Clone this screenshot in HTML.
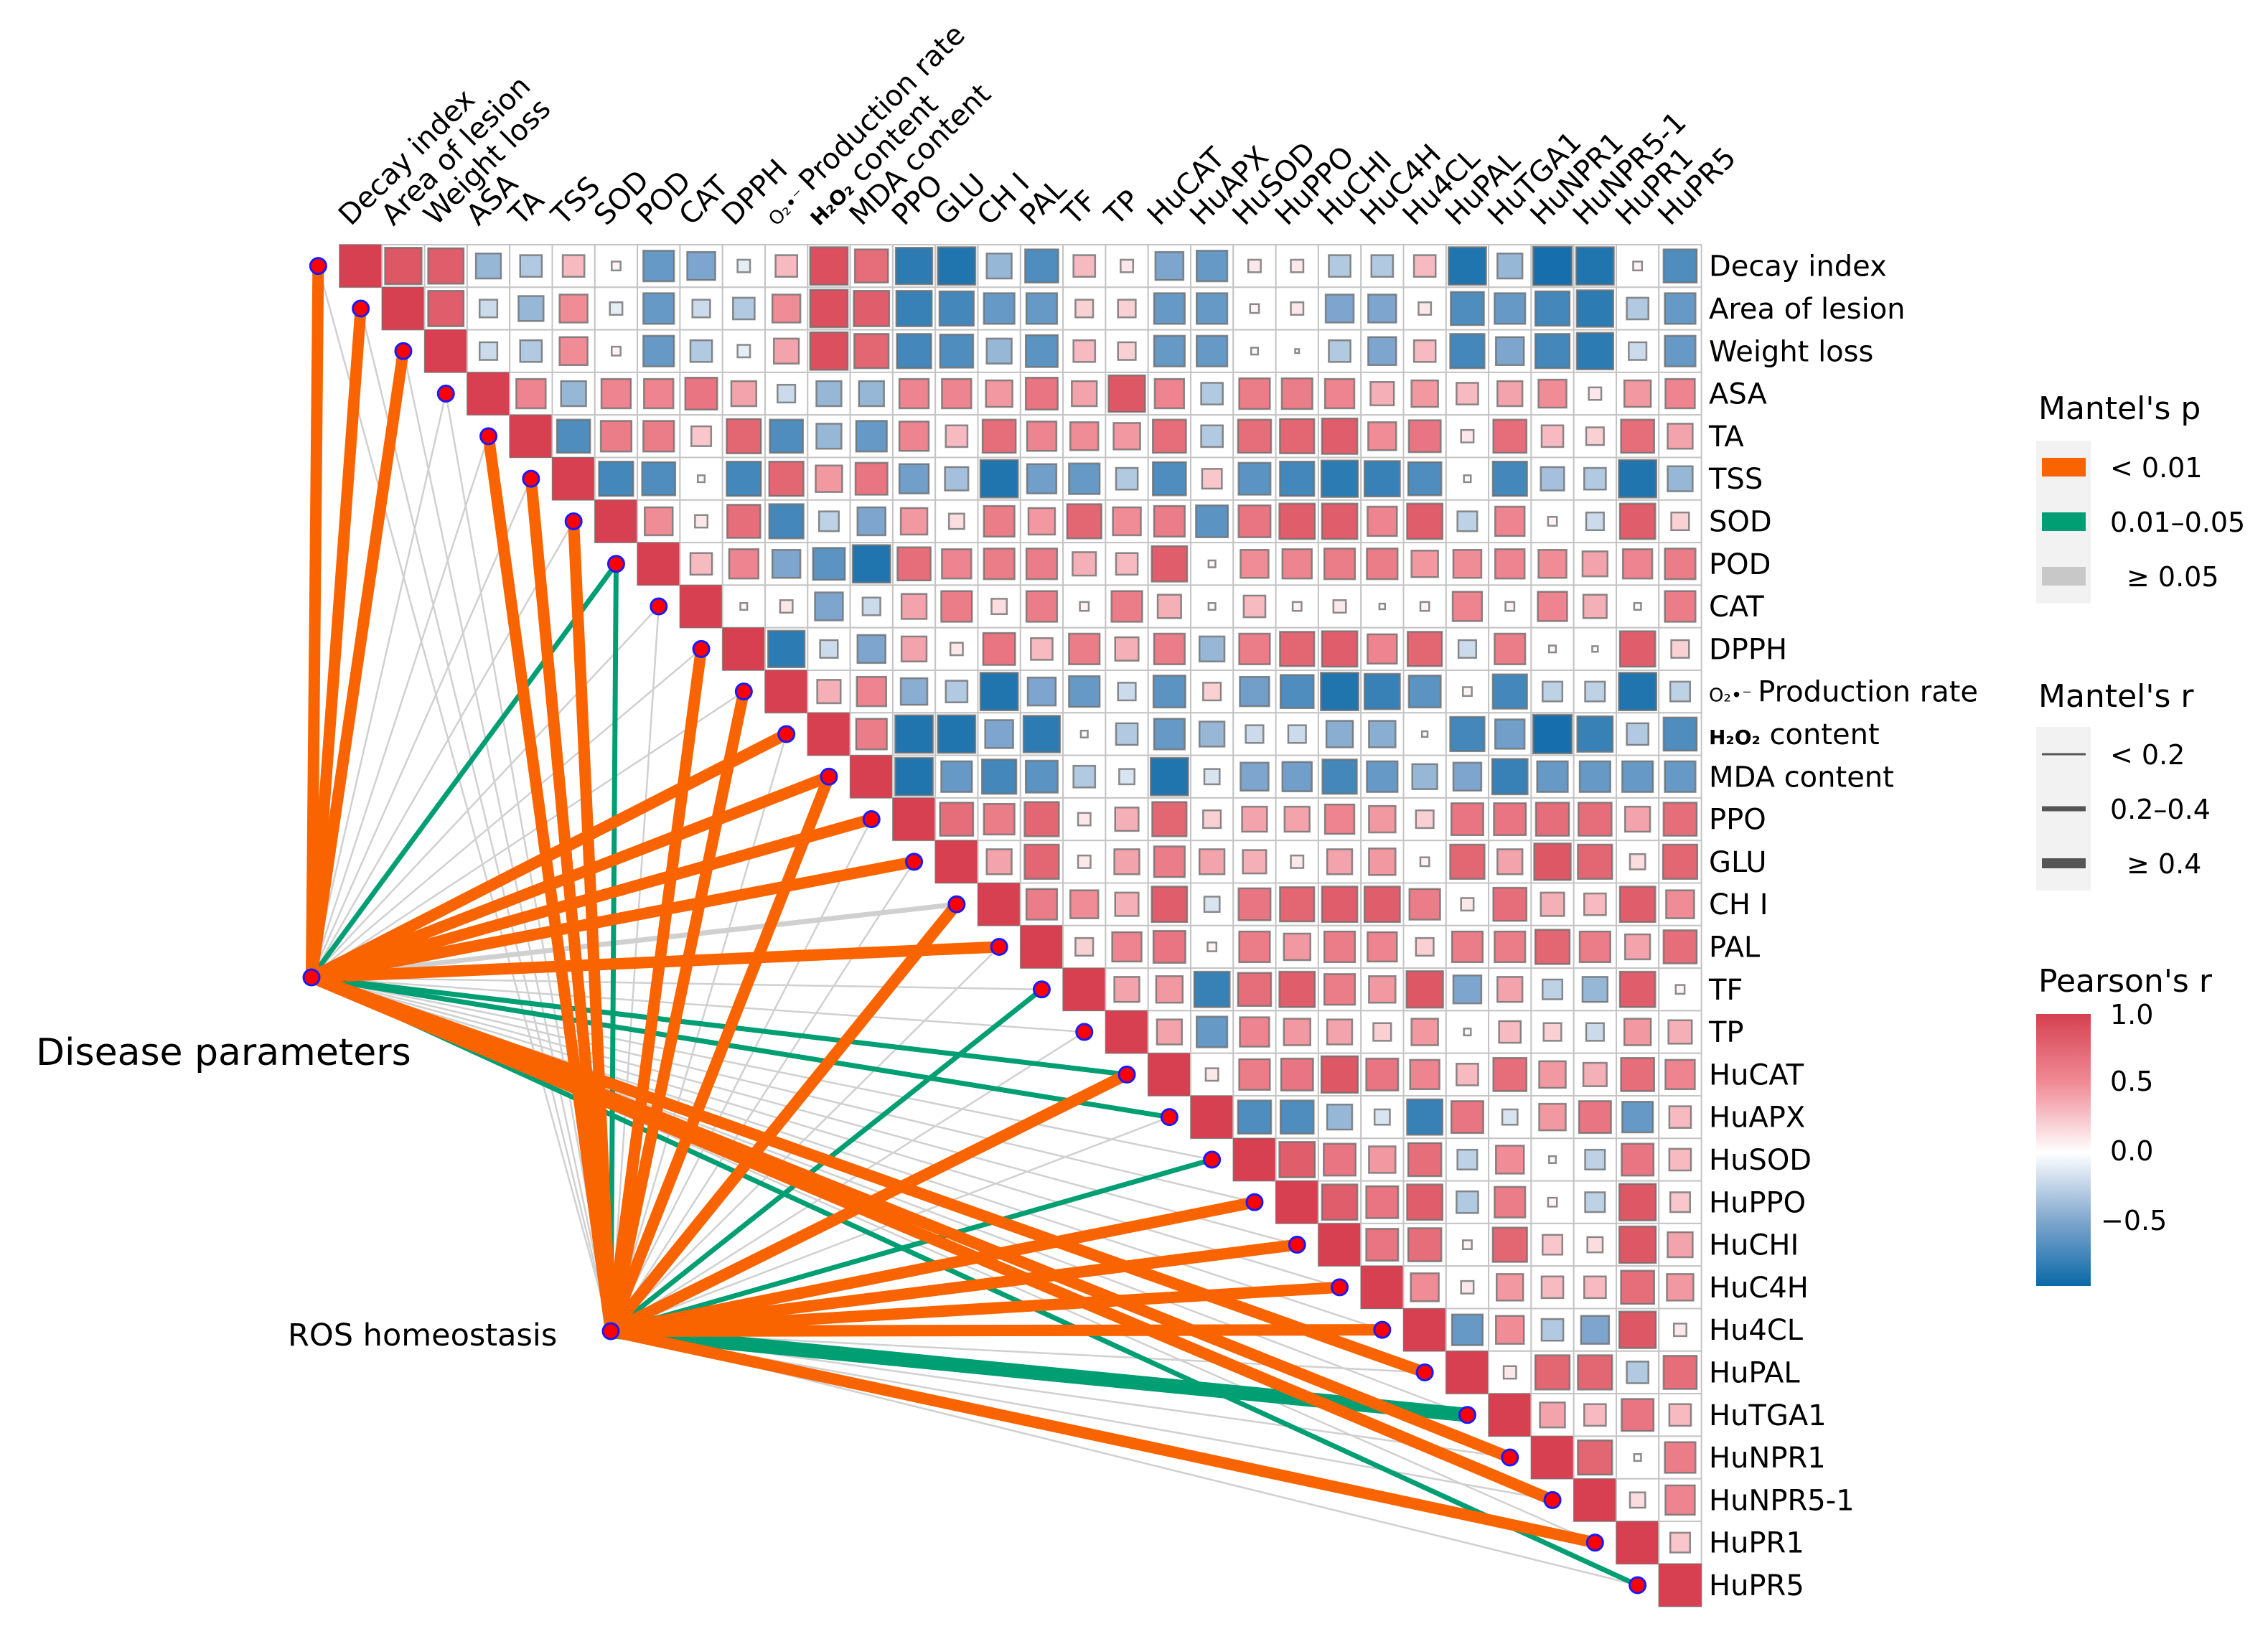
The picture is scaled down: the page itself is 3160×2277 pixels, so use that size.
<!DOCTYPE html>
<html><head><meta charset="utf-8">
<style>
html,body{margin:0;padding:0;background:#fff;}
svg{display:block;font-family:"DejaVu Sans","Liberation Sans",sans-serif;}
</style></head>
<body>
<svg id="chart" width="3160" height="2277" viewBox="0 0 3160 2277" xmlns="http://www.w3.org/2000/svg">
<rect width="3160" height="2277" fill="#fff"/>
<g id="cells"></g>
<g id="links"></g>
<g id="dots"></g>
<g id="labels"></g>
<text x="50" y="1484" font-size="52">Disease parameters</text>
<text x="401" y="1875" font-size="43">ROS homeostasis</text>

<g>
<text x="2840" y="584" font-size="44">Mantel's p</text>
<rect x="2837" y="614" width="76" height="227" fill="#f2f2f2"/>
<line x1="2845" x2="2906" y1="651" y2="651" stroke="#F96400" stroke-width="26"/>
<line x1="2845" x2="2906" y1="727" y2="727" stroke="#009E73" stroke-width="26"/>
<line x1="2845" x2="2906" y1="803" y2="803" stroke="#c8c8c8" stroke-width="26"/>
<text x="2940" y="665" font-size="38">&lt; 0.01</text>
<text x="2940" y="741" font-size="38">0.01–0.05</text>
<text x="2963" y="817" font-size="38">≥ 0.05</text>
</g>
<g>
<text x="2840" y="985" font-size="44">Mantel's r</text>
<rect x="2837" y="1013" width="76" height="228" fill="#f2f2f2"/>
<line x1="2845" x2="2906" y1="1051" y2="1051" stroke="#555" stroke-width="3"/>
<line x1="2845" x2="2906" y1="1127" y2="1127" stroke="#555" stroke-width="7"/>
<line x1="2845" x2="2906" y1="1203" y2="1203" stroke="#555" stroke-width="14"/>
<text x="2940" y="1065" font-size="38">&lt; 0.2</text>
<text x="2940" y="1141" font-size="38">0.2–0.4</text>
<text x="2963" y="1217" font-size="38">≥ 0.4</text>
</g>
<g>
<text x="2840" y="1382" font-size="44">Pearson's r</text>
<defs>
<linearGradient id="cbar" x1="0" y1="0" x2="0" y2="1">
<stop offset="0" stop-color="rgb(214,64,80)"/>
<stop offset="0.255" stop-color="rgb(240,140,150)"/>
<stop offset="0.51" stop-color="#fff"/>
<stop offset="0.765" stop-color="rgb(125,165,205)"/>
<stop offset="1" stop-color="rgb(10,105,168)"/>
</linearGradient>
</defs>
<rect x="2837" y="1413" width="76" height="379" fill="url(#cbar)"/>
<text x="2940" y="1427" font-size="38">1.0</text>
<text x="2940" y="1520" font-size="38">0.5</text>
<text x="2940" y="1617" font-size="38">0.0</text>
<text x="2927" y="1714" font-size="38">−0.5</text>
</g>
</svg>
<script>
const vars = ["Decay index","Area of lesion","Weight loss","ASA","TA","TSS","SOD","POD","CAT","DPPH","O2 Production rate","H2O2 content","MDA content","PPO","GLU","CH I","PAL","TF","TP","HuCAT","HuAPX","HuSOD","HuPPO","HuCHI","HuC4H","Hu4CL","HuPAL","HuTGA1","HuNPR1","HuNPR5-1","HuPR1","HuPR5"];
// upper-triangle correlations, row i lists columns i+1..31
const corrRows = [
[.85,.8,-.4,-.3,.3,.05,-.6,-.5,-.1,.3,.9,.7,-.85,-.9,-.4,-.7,.3,.1,-.5,-.6,.1,.1,-.3,-.3,.3,-.9,-.4,-.95,-.9,.05,-.7],
[.8,-.2,-.4,.5,-.1,-.6,-.2,-.3,.5,.9,.8,-.8,-.75,-.6,-.6,.2,.2,-.6,-.6,.05,.1,-.5,-.5,.1,-.7,-.6,-.75,-.85,-.3,-.6],
[-.2,-.3,.5,.05,-.6,-.3,-.1,.4,.9,.75,-.75,-.7,-.4,-.65,.3,.2,-.6,-.6,.03,.01,-.3,-.5,.3,-.75,-.5,-.75,-.85,-.2,-.6],
[.55,-.4,.55,.55,.65,.4,-.2,-.4,-.4,.55,.55,.45,.65,.4,.85,.55,-.3,.6,.6,.55,.35,.45,.3,.4,.5,.1,.45,.55],
[-.7,.6,.6,.25,.75,-.7,-.4,-.6,.55,.3,.7,.55,.5,.45,.7,-.3,.7,.75,.8,.5,.65,.1,.7,.3,.2,.7,.4],
[-.75,-.7,.03,-.75,.75,.45,.65,-.55,-.35,-.9,-.55,-.6,-.3,-.7,.25,-.65,-.75,-.85,-.8,-.7,.03,-.75,-.35,-.3,-.9,-.4],
[.5,.1,.7,-.75,-.25,-.5,.45,.15,.6,.45,.75,.5,.6,-.65,.65,.8,.8,.55,.8,-.25,.55,.05,-.2,.8,.2],
[.3,.55,-.5,-.65,-.9,.7,.55,.6,.6,.35,.3,.8,.03,.5,.55,.6,.6,.45,.5,.55,.5,.4,.55,.6],
[.03,.1,-.5,-.2,.4,.6,.15,.6,.05,.6,.35,.03,.3,.05,.1,.02,.05,.55,.05,.55,.35,.03,.6],
[-.85,-.2,-.5,.4,.1,.65,.3,.6,.35,.6,-.4,.6,.75,.8,.55,.75,-.2,.6,.03,.02,.8,.2],
[.35,.55,-.45,-.3,-.9,-.5,-.6,-.2,-.65,.2,-.55,-.7,-.9,-.8,-.65,.05,-.75,-.25,-.25,-.9,-.25],
[.6,-.9,-.9,-.5,-.85,.03,-.3,-.6,-.4,-.2,-.2,-.45,-.45,.02,-.75,-.55,-.95,-.8,-.3,-.7],
[-.9,-.6,-.75,-.65,-.3,-.15,-.9,-.15,-.5,-.55,-.75,-.6,-.4,-.5,-.8,-.6,-.6,-.6,-.6],
[.7,.6,.75,.1,.35,.75,.2,.4,.4,.55,.45,.2,.65,.65,.7,.7,.4,.7],
[.4,.75,.1,.4,.6,.4,.35,.1,.4,.45,.05,.75,.4,.85,.75,.15,.75],
[.6,.5,.35,.8,-.15,.65,.75,.8,.8,.6,.1,.7,.35,.3,.8,.5],
[.2,.55,.65,.05,.6,.45,.6,.55,.2,.6,.6,.75,.6,.4,.7],
[.4,.45,-.8,.7,.8,.6,.45,.85,-.5,.4,-.25,-.4,.8,.05],
[.4,-.6,.55,.45,.4,.2,.45,.03,.3,.2,-.2,.45,.35],
[.1,.6,.65,.85,.65,.55,.3,.7,.45,.35,.7,.55],
[-.7,-.7,-.4,-.15,-.8,.65,-.15,.45,.65,-.6,.3],
[.8,.65,.45,.7,-.25,.5,.03,-.25,.65,.3],
[.8,.65,.8,-.3,.6,.05,-.25,.85,.25],
[.65,.7,.05,.75,.25,.15,.85,.4],
[.5,.1,.45,.3,.3,.7,.45],
[-.6,.5,-.3,-.5,.85,.1],
[.1,.75,.75,-.3,.7],
[.4,.3,.65,.3],
[.75,.03,.6],
[.15,.55],
[.25],
[]
];
// Mantel p class (0: <0.01, 1: 0.01-0.05, 2: >=0.05) and r class (0,1,2)
const diseaseP = [0,0,0,2,2,2,2,1,2,2,2,0,0,0,0,2,0,2,2,1,1,2,2,2,2,2,0,2,0,0,2,1];
const diseaseR = [2,2,2,0,0,0,0,1,0,0,0,2,2,2,2,1,2,0,0,1,1,0,0,0,0,0,2,0,2,2,0,1];
const rosP = [2,2,2,2,0,0,0,1,2,0,0,2,0,2,2,0,2,1,2,0,2,1,0,0,0,0,2,1,2,2,0,2];
const rosR = [0,0,0,0,2,2,2,1,0,2,2,0,2,0,0,2,0,1,0,2,0,1,2,2,2,2,0,2,0,0,2,0];

const NS = "http://www.w3.org/2000/svg";
const X0 = 473, Y0 = 341, C = 59.3;
const xc = j => X0 + (j + 0.5) * C;
const yc = i => Y0 + (i + 0.5) * C;
const stops = [[-1,[10,105,168]],[-0.5,[125,165,205]],[0,[255,255,255]],[0.5,[240,140,150]],[1,[214,64,80]]];
function col(v){
  v = Math.max(-1, Math.min(1, v));
  for (let k = 0; k < stops.length - 1; k++) {
    const a = stops[k], b = stops[k+1];
    if (v <= b[0]) {
      const t = (v - a[0]) / (b[0] - a[0]);
      const c = a[1].map((q, m) => Math.round(q + (b[1][m] - q) * t));
      return "rgb(" + c.join(",") + ")";
    }
  }
  return "rgb(214,64,80)";
}
function mk(tag, attrs, parent){
  const e = document.createElementNS(NS, tag);
  for (const k in attrs) e.setAttribute(k, attrs[k]);
  parent.appendChild(e);
  return e;
}
const gC = document.getElementById("cells");
const n = vars.length;
for (let i = 0; i < n; i++) {
  for (let j = i; j < n; j++) {
    const v = (j === i) ? 1 : corrRows[i][j - i - 1];
    const cell = mk("rect", {x: X0 + j*C, y: Y0 + i*C, width: C, height: C, fill: "#fff", stroke: "#c4c4c4", "stroke-width": 2}, gC);
    
    
    const s = (j === i) ? C : C * 0.93 * Math.sqrt(Math.abs(v));
    const sq = mk("rect", {x: xc(j) - s/2, y: yc(i) - s/2, width: s, height: s, fill: col(v), stroke: "#6e6e6e", "stroke-width": (j === i) ? 1 : 2.5, "stroke-opacity": 0.8}, gC);
    
    
  }
}
// links
const gL = document.getElementById("links");
const D = [434, 1362], R = [851, 1855];
const pCol = ["#F96400", "#009E73", "#d0d0d0"];
const rW = [2.5, 7, 16];
const linkList = [];
for (let i = 0; i < n; i++) {
  linkList.push([D, i, diseaseP[i], diseaseR[i]]);
  linkList.push([R, i, rosP[i], rosR[i]]);
}
linkList.sort((a, b) => b[2] - a[2]);
for (const [src, i, p, r] of linkList) {
  const w = (i === 27 && src === R) ? 20 : rW[r];
  const ln = mk("line", {x1: src[0], y1: src[1], x2: xc(i - 1), y2: yc(i), stroke: pCol[p], "stroke-width": w}, gL);
  
  
}
const gD = document.getElementById("dots");
for (let i = 0; i < n; i++) {
  const d = mk("circle", {cx: xc(i - 1), cy: yc(i), r: 11, fill: "#f00", stroke: "#1a1aff", "stroke-width": 3}, gD);
  
  
}
for (const s of [D, R]) {
  const d = mk("circle", {cx: s[0], cy: s[1], r: 11, fill: "#f00", stroke: "#1a1aff", "stroke-width": 3}, gD);
  
  
}
// labels
const gT = document.getElementById("labels");
function addLabel(parent, i){
  if (i === 10) {
    const a = mk("tspan", {"font-size": 26}, parent); a.textContent = "O₂•⁻ ";
    const b = mk("tspan", {}, parent); b.textContent = "Production rate";
  } else if (i === 11) {
    const a = mk("tspan", {"font-size": 28, "font-weight": "bold"}, parent); a.textContent = "H₂O₂";
    const b = mk("tspan", {}, parent); b.textContent = " content";
  } else parent.textContent = vars[i];
}
for (let i = 0; i < n; i++) {
  const t = mk("text", {x: 2381, y: yc(i) + 14, "font-size": 40}, gT);
  
  
  addLabel(t, i);
  const cx = xc(i) - 14, cy = 316;
  const t2 = mk("text", {x: cx, y: cy, "font-size": 40, transform: "rotate(-45 " + cx + " " + cy + ")"}, gT);
  
  
  addLabel(t2, i);
}
</script>
</body></html>
